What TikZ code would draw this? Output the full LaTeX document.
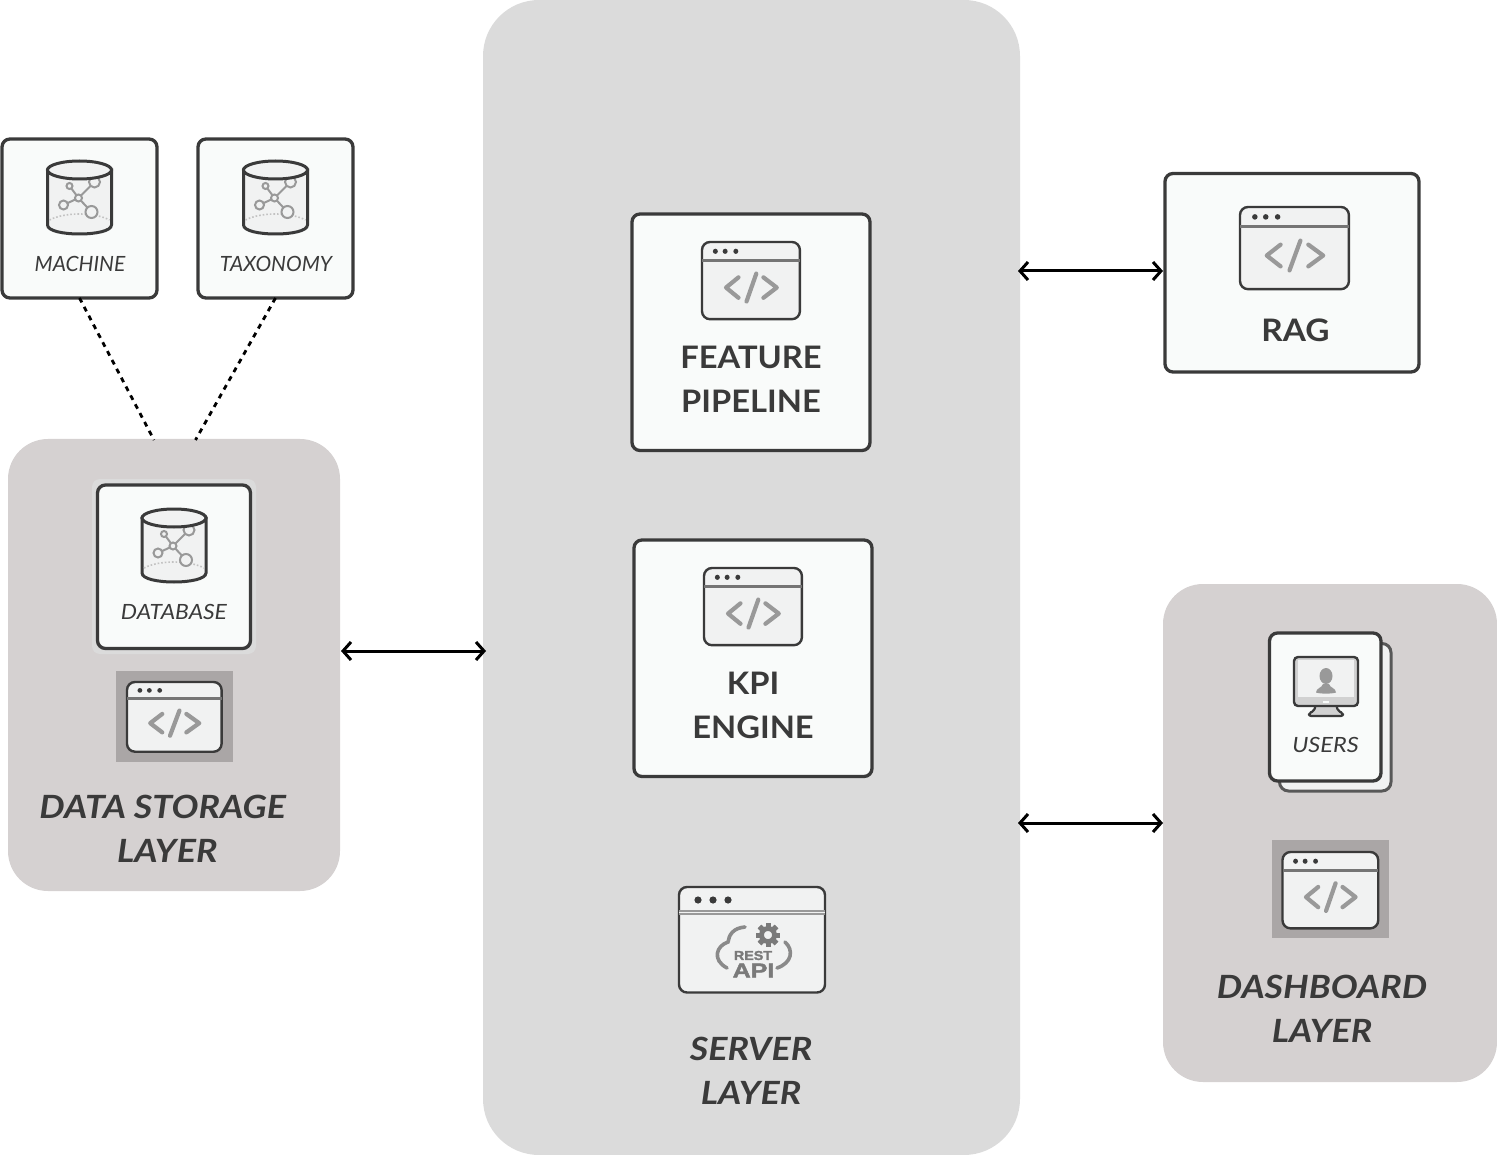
\documentclass[tikz,border=0pt]{standalone}
\usepackage{fontspec}
\setmainfont{Lato}
\usetikzlibrary{arrows.meta}
\definecolor{ink}{HTML}{3A3A3A}
\definecolor{paper}{HTML}{F9FBFA}
\definecolor{iconfill}{HTML}{F1F2F2}
\definecolor{glyph}{HTML}{999999}
\definecolor{warm}{HTML}{D5D1D1}
\definecolor{cool}{HTML}{DBDBDB}
\definecolor{iconbg}{HTML}{AAA6A6}
\newfontfamily\apifont[BoldFeatures={FakeBold=1.8}]{Liberation Sans}
\tikzset{
  panelwarm/.style={fill=warm,draw=none,rounded corners=40,inner sep=0,outer sep=0},
  panelcool/.style={fill=cool,draw=none,rounded corners=56,inner sep=0,outer sep=0},
  cardbox/.style={fill=paper,draw=ink,line width=3.3,rounded corners=8,inner sep=0,outer sep=0},
  halo/.style={fill=cool,draw=none,rounded corners=8,inner sep=0,outer sep=0},
  backcard/.style={fill=iconfill,draw=ink!85,line width=3,rounded corners=9,inner sep=0,outer sep=0},
  iconback/.style={fill=iconbg,draw=none,inner sep=0,outer sep=0},
  winframe/.style={fill=iconfill,draw=ink,line width=2.4,rounded corners=8},
  winbar/.style={draw=ink!70,line width=2.8},
  wincode/.style={draw=glyph,line width=4.2,line cap=round,line join=round},
  windot/.style={fill=ink,draw=none},
  dbline/.style={draw=ink,line width=3},
  graphline/.style={draw=glyph,line width=2,fill=iconfill},
  link/.style={draw=black,line width=3,{Straight Barb[length=8,width=18]}-{Straight Barb[length=8,width=18]}},
  dotlink/.style={draw=black,line width=2.8,dash pattern=on 5 off 5},
  biglabel/.style={text=ink,align=center,font=\fontsize{31}{44}\selectfont\bfseries,inner sep=0,xscale=1.055,transform shape},
  layerlabel/.style={text=ink,align=center,font=\fontsize{32}{44}\selectfont\bfseries\itshape,inner sep=0,xscale=1.12,transform shape},
  smalllabel/.style={text=ink,font=\fontsize{21}{24}\selectfont\itshape,inner sep=0},
}
\newcommand{\boxat}[6]{\node[#1,minimum width={#5-#3},minimum height={#6-#4}] (#2) at ({(#3+#5)/2},{(#4+#6)/2}) {};}
\newcommand{\codewin}[4]{%
  \begin{scope}[shift={(#1,#2)},xscale=#3,yscale=#4]
    \draw[winframe] (0,0) rectangle (110,83);
    \draw[winbar] (0,20) -- (110,20);
    \foreach \dx in {15,26,38} \fill[windot] (\dx,10) circle[radius=2.8];
    \draw[wincode] (41,38) -- (27,49) -- (41,60);
    \draw[wincode] (61,34) -- (50,64);
    \draw[wincode] (69,38) -- (84,49) -- (69,60);
  \end{scope}}
\newcommand{\dbicon}[2]{%
  \begin{scope}[shift={(#1,#2)}]
    \draw[dbline,fill=iconfill] (-32,0) -- (-32,55) .. controls (-32,67) and (32,67) .. (32,55) -- (32,0) -- cycle;
    \draw[draw=glyph!60,line width=1.6,dotted] (-30,50) .. controls (-15,42) and (15,42) .. (30,50);
    \draw[graphline] (-1,28) -- (-10,16) (-1,28) -- (-16,35) (-1,28) -- (12,42) (-1,28) -- (15,12);
    \draw[graphline] (-1,28) circle[radius=3.5];
    \draw[graphline] (-10,16) circle[radius=3];
    \draw[graphline] (-16,35) circle[radius=4.5];
    \draw[graphline] (12,42) circle[radius=6];
    \draw[graphline] (15,12) circle[radius=5.5];
    \draw[dbline,fill=iconfill] (0,0) ellipse[x radius=32,y radius=9];
  \end{scope}}
\begin{document}
\begin{tikzpicture}[x=1pt,y=-1pt]
\useasboundingbox (0,0) rectangle (1497,1155);
% panels
\boxat{panelcool}{server}{483}{0}{1020}{1155}
\boxat{panelwarm}{storage}{8}{439}{340}{891}
\boxat{panelwarm}{dashboard}{1163}{584}{1497}{1082}
% data sources
\boxat{cardbox}{machine}{2}{139}{157}{298}
\boxat{cardbox}{taxonomy}{198}{139}{353}{298}
\dbicon{79.5}{170}
\dbicon{275.5}{170}
\node[smalllabel] (machinetext) at (80,263.5) {MACHINE};
\node[smalllabel] (taxonomytext) at (276,263.5) {TAXONOMY};
% storage
\boxat{halo}{dbhalo}{92}{479}{256}{654}
\boxat{cardbox}{database}{97.5}{485}{250.5}{648.5}
\dbicon{174}{518}
\node[smalllabel,xscale=1.09,transform shape] (databasetext) at (174,611.5) {DATABASE};
\boxat{iconback}{storageback}{116}{671}{233}{762}
\codewin{127}{682}{0.86}{0.84}
\node[layerlabel] (storagetext) at (165,828.5) {DATA STORAGE\hspace*{4pt}\\\hspace*{4pt}LAYER};
% server
\boxat{cardbox}{feature}{632}{214}{870}{450.5}
\codewin{702}{242}{0.89}{0.93}
\node[biglabel] (featuretext) at (751,379) {FEATURE\\PIPELINE};
\boxat{cardbox}{kpi}{634}{540}{872}{776.5}
\codewin{704}{568}{0.89}{0.93}
\node[biglabel] (kpitext) at (753,705) {KPI\\ENGINE};
% REST icon
\draw[winframe] (679,887) rectangle (825,992.5);
\draw[draw=glyph,line width=5] (679,912) -- (825,912);
\draw[draw=iconfill,line width=1] (679,912) -- (825,912);
\foreach \dx in {698,713,728} \fill[windot] (\dx,900) circle[radius=3.6];
\draw[draw=glyph!90!black,line width=3.6,line cap=round] (745,927) .. controls (733,928) and (729,935) .. (728,942) .. controls (716,946) and (712,960) .. (727,968);
\draw[draw=glyph!90!black,line width=3.6,line cap=round] (785,942) .. controls (794,950) and (792,963) .. (777,968);
\foreach \ang in {0,45,...,315} \fill[glyph!80!black,rotate around={\ang:(768,935)}] (765.5,923) rectangle (770.5,947);
\draw[draw=glyph!80!black,fill=iconfill,line width=4.8] (768,935) circle[radius=6.5];
\node[inner sep=0,text=glyph!80!black] (resttext) at (753,955.5) {\apifont\fontsize{13}{13}\selectfont\bfseries\scalebox{1.1}[1]{REST}};
\node[inner sep=0,text=glyph!80!black] (apitext) at (753.5,970.5) {\apifont\fontsize{20}{20}\selectfont\bfseries\scalebox{1.25}[1]{API}};
\node[layerlabel] (servertext) at (751,1070.5) {SERVER\\LAYER};
% RAG
\boxat{cardbox}{rag}{1165}{173.5}{1419}{372}
\codewin{1240}{207}{0.99}{0.99}
\node[biglabel,xscale=1.02] (ragtext) at (1295.5,330) {RAG};
% users
\boxat{backcard}{userback}{1279.5}{643.5}{1391}{791}
\boxat{cardbox}{users}{1269.5}{633}{1381}{781}
\draw[draw=ink,fill=glyph!45,line width=2.2,line join=round,rounded corners=2] (1316,704) -- (1314,711) -- (1309,713) -- (1309,716) -- (1343,716) -- (1343,713) -- (1338,711) -- (1336,704) -- cycle;
\draw[draw=ink,fill=glyph!45,line width=2.4,rounded corners=4] (1294,657) rectangle (1358,706);
\fill[iconfill] (1298,660) rectangle (1354,697);
\fill[paper] (1323,701) rectangle (1329,702.5);
\fill[glyph] (1326,676) ellipse[x radius=6.5,y radius=8];
\fill[glyph] (1316,692.5) .. controls (1316,688) and (1322,688) .. (1323,684) -- (1329,684) .. controls (1330,688) and (1336,688) .. (1336,692.5) .. controls (1332,694) and (1320,694) .. (1316,692.5) -- cycle;
\node[smalllabel,xscale=1.12,transform shape] (userstext) at (1325.5,744.5) {USERS};
\boxat{iconback}{dashback}{1272}{840}{1389}{938}
\codewin{1282.5}{852}{0.87}{0.92}
\node[layerlabel] (dashtext) at (1322,1008.5) {DASHBOARD\\LAYER};
% connectors
\coordinate (stA) at (154,440);
\coordinate (stB) at (195.5,440);
\draw[dotlink] (machine.south) -- (stA);
\draw[dotlink] (taxonomy.south) -- (stB);
\coordinate (rowA) at (0,651);
\coordinate (rowB) at (0,271);
\coordinate (rowC) at (0,823);
\draw[link] ([xshift=1]storage.east |- rowA) -- ([xshift=3]server.west |- rowA);
\draw[link] ([xshift=-2]server.east |- rowB) -- ([xshift=-2]rag.west |- rowB);
\draw[link] ([xshift=-2]server.east |- rowC) -- (dashboard.west |- rowC);
\end{tikzpicture}
\end{document}
